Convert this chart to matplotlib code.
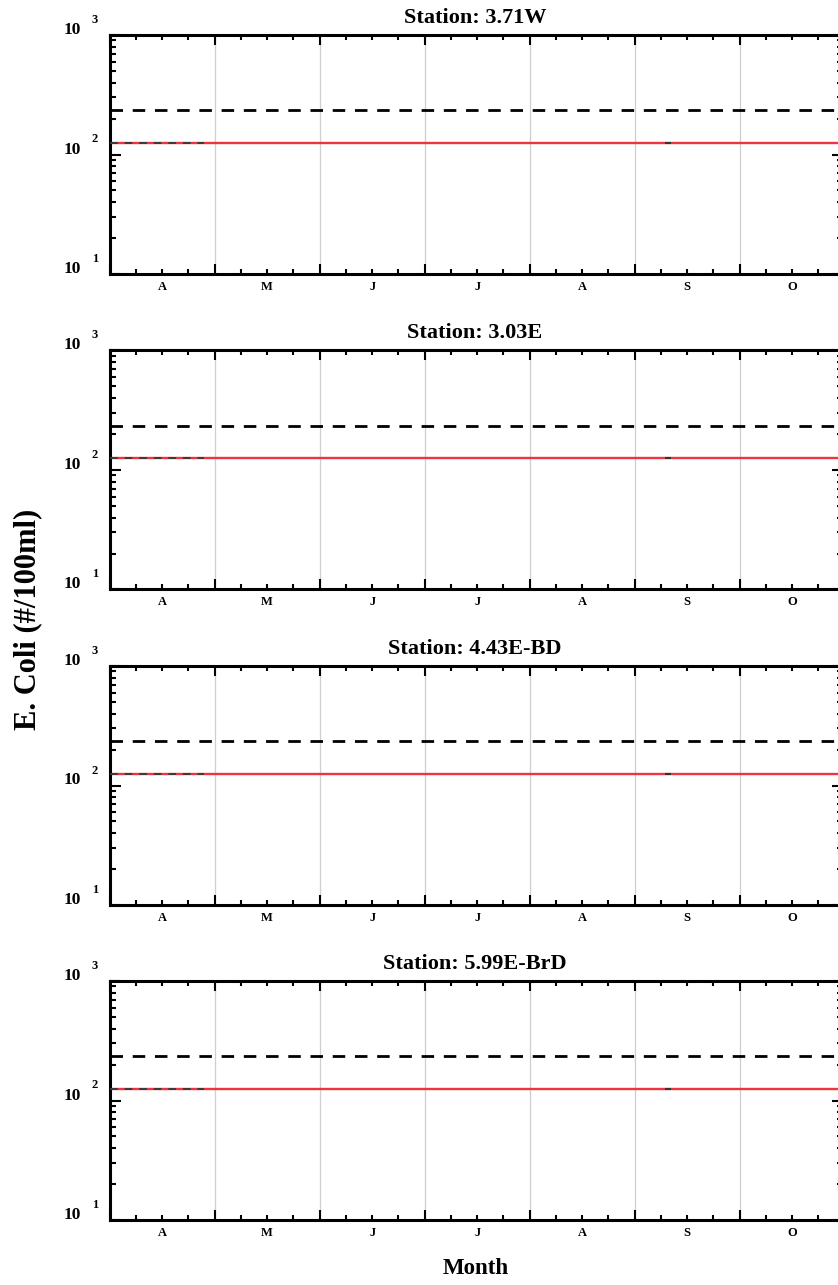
import matplotlib.pyplot as plt
from matplotlib.transforms import offset_copy
from matplotlib.ticker import LogLocator, NullFormatter, FixedLocator

# data
stations = ["3.71W", "3.03E", "4.43E-BD", "5.99E-BrD"]
months = ["A", "M", "J", "J", "A", "S", "O"]
gm_standard = 126      # red line, geometric mean criterion
single_sample = 235    # black dashed line
gm_x = [0.0, 0.9]      # short dark dashed segment in April
gm_y = [126, 126]
sample_x = [5.32]      # tiny mark near September
sample_y = [125]

plt.rcParams['font.family'] = ['Liberation Serif', 'DejaVu Serif']
plt.rcParams['font.weight'] = 'bold'

W, H = 838, 1285
fig = plt.figure(figsize=(W / 100, H / 100), dpi=100)

left, right = 109.6, 843.0
tops = [35, 350.5, 666, 981]
ph = 239
month_px = 105.0

for i, st in enumerate(stations):
    ax = fig.add_axes([left / W, 1 - (tops[i] + ph) / H, (right - left) / W, ph / H])
    ax.set_yscale('log')
    ax.set_ylim(10, 1000)
    ax.set_xlim(0, (right - left) / month_px)

    # month boundary grid
    for m in range(1, 7):
        ax.axvline(m, color='#cfcfcf', lw=0.9, zorder=0)

    ax.axhline(single_sample, color='black', lw=2.0, dashes=(4.5, 3.5), zorder=3)
    ax.axhline(gm_standard, color='#ec3540', lw=1.7, zorder=2)
    ax.plot(gm_x, gm_y, color='#3a3a3a', lw=1.4, dashes=(4, 3.5), zorder=4)
    ax.plot(sample_x, sample_y, marker='_', color='#333333', ms=4, mew=1.5, ls='none', zorder=5)

    for s in ax.spines.values():
        s.set_linewidth(2.2)

    ax.xaxis.set_major_locator(FixedLocator(range(0, 8)))
    ax.xaxis.set_minor_locator(FixedLocator([m + q / 4 for m in range(7) for q in (1, 2, 3)]))
    ax.xaxis.set_major_formatter(NullFormatter())
    ax.yaxis.set_major_locator(LogLocator(base=10, numticks=5))
    ax.yaxis.set_minor_locator(LogLocator(base=10, subs=range(2, 10), numticks=10))
    ax.yaxis.set_major_formatter(NullFormatter())
    ax.yaxis.set_minor_formatter(NullFormatter())

    ax.tick_params(axis='x', which='both', direction='in', top=True, bottom=True, width=1.5)
    ax.tick_params(axis='x', which='major', length=7)
    ax.tick_params(axis='x', which='minor', length=3.8)
    ax.tick_params(axis='y', which='both', direction='in', left=True, right=True, width=1.5)
    ax.tick_params(axis='y', which='major', length=8)
    ax.tick_params(axis='y', which='minor', length=4.5)

    # y labels as "10" with a raised exponent
    ytr = ax.get_yaxis_transform()
    for e in (1, 2, 3):
        ax.text(0, 10 ** e, "10", ha='right', va='center', fontsize=12.5, fontweight='bold',
                transform=offset_copy(ytr, fig=fig, x=-28.6, y=5, units='dots'), clip_on=False)
        ax.text(0, 10 ** e, str(e), ha='left', va='center', fontsize=9, fontweight='bold',
                transform=offset_copy(ytr, fig=fig, x=-17.6, y=15, units='dots'), clip_on=False)

    xtr = ax.get_xaxis_transform()
    for m, lab in enumerate(months):
        ax.text(m + 0.5, 0, lab, ha='center', va='center', fontsize=9, fontweight='bold',
                transform=offset_copy(xtr, fig=fig, x=0, y=-13, units='dots'), clip_on=False)

    ax.text(0.5, 1 + 17 / ph, "Station: " + st, ha='center', va='center', fontsize=16,
            fontweight='bold', transform=offset_copy(ax.transAxes, fig=fig, x=-1.5, y=0, units='dots'))

fig.text(476 / W, 1 - 1269 / H, "Month", ha='center', va='center', fontsize=16.5, fontweight='bold')
fig.text(28 / W, 1 - 619 / H, "E. Coli (#/100ml)", ha='center', va='center', rotation=90,
         fontsize=22, fontweight='bold')

fig.savefig("out.png", dpi=100)
